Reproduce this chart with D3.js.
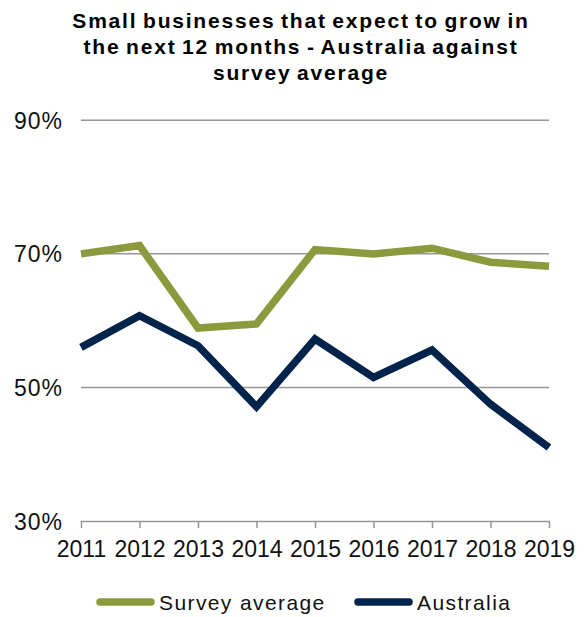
<!DOCTYPE html>
<html>
<head>
<meta charset="utf-8">
<script src="https://cdn.jsdelivr.net/npm/d3@7"></script>
<style>
  body { margin: 0; background: #fff; }
  svg text { font-family: "Liberation Sans", Arial, sans-serif; }
</style>
</head>
<body>
<svg width="584" height="617"></svg>
<script>
var years = [2011, 2012, 2013, 2014, 2015, 2016, 2017, 2018, 2019];
var surveyAverage = [70.0, 71.25, 58.9, 59.5, 70.65, 70.0, 70.85, 68.75, 68.15];
var australia = [56.0, 60.75, 56.25, 47.1, 57.25, 51.5, 55.6, 47.5, 41.0];
var yTicks = [30, 50, 70, 90];
var titleLines = ["Small businesses that expect to grow in", "the next 12 months - Australia against", "survey average"];

var series = [
  { name: "Survey average", values: surveyAverage, color: "#8a9a3d" },
  { name: "Australia", values: australia, color: "#00234b" }
];

var svg = d3.select("svg");

var x = d3.scalePoint().domain(years).range([81, 549]);
var y = d3.scaleLinear().domain([30, 90]).range([521, 120.3]);

// title
svg.append("g").selectAll("text")
    .data(titleLines)
  .enter().append("text")
    .attr("x", 301)
    .attr("y", function(d, i) { return 28 + i * 26; })
    .attr("text-anchor", "middle")
    .attr("font-size", 21)
    .attr("font-weight", "bold")
    .attr("letter-spacing", 1.8)
    .attr("word-spacing", -2)
    .text(function(d) { return d; });

// gridlines
svg.append("g").selectAll("line")
    .data(yTicks.filter(function(d) { return d > 30; }))
  .enter().append("line")
    .attr("x1", 81).attr("x2", 549)
    .attr("y1", function(d) { return y(d); })
    .attr("y2", function(d) { return y(d); })
    .attr("stroke", "#969696")
    .attr("stroke-width", 1.5);

// y labels
svg.append("g").selectAll("text")
    .data(yTicks)
  .enter().append("text")
    .attr("x", 63)
    .attr("y", function(d) { return y(d) + 8.5; })
    .attr("text-anchor", "end")
    .attr("font-size", 23)
    .attr("letter-spacing", 1)
    .attr("fill", "#111")
    .text(function(d) { return d + "%"; });

// x axis
var xAxis = svg.append("g")
    .attr("transform", "translate(0," + y(30) + ")")
    .call(d3.axisBottom(x).tickSize(7).tickPadding(13).tickSizeOuter(0));
xAxis.select(".domain").attr("stroke", "#969696").attr("stroke-width", 1.5);
xAxis.selectAll(".tick line").attr("stroke", "#969696").attr("stroke-width", 1.5);
xAxis.selectAll(".tick text")
    .attr("font-family", "Liberation Sans, Arial, sans-serif")
    .attr("font-size", 23)
    .attr("fill", "#111");

// lines
var line = d3.line()
    .x(function(d, i) { return x(years[i]); })
    .y(function(d) { return y(d); });

svg.append("g").selectAll("path")
    .data(series)
  .enter().append("path")
    .attr("d", function(d) { return line(d.values); })
    .attr("fill", "none")
    .attr("stroke", function(d) { return d.color; })
    .attr("stroke-width", 7.5)
    .attr("stroke-linejoin", "miter");

// legend
var legendX = [100, 358];
var legend = svg.append("g").selectAll("g")
    .data(series)
  .enter().append("g")
    .attr("transform", function(d, i) { return "translate(" + legendX[i] + ",602)"; });
legend.append("line")
    .attr("x1", 0).attr("x2", 51)
    .attr("stroke", function(d) { return d.color; })
    .attr("stroke-width", 7.5)
    .attr("stroke-linecap", "round");
legend.append("text")
    .attr("x", 59)
    .attr("y", 7.5)
    .attr("font-size", 21)
    .attr("letter-spacing", 1.4)
    .attr("fill", "#111")
    .text(function(d) { return d.name; });
</script>
</body>
</html>
